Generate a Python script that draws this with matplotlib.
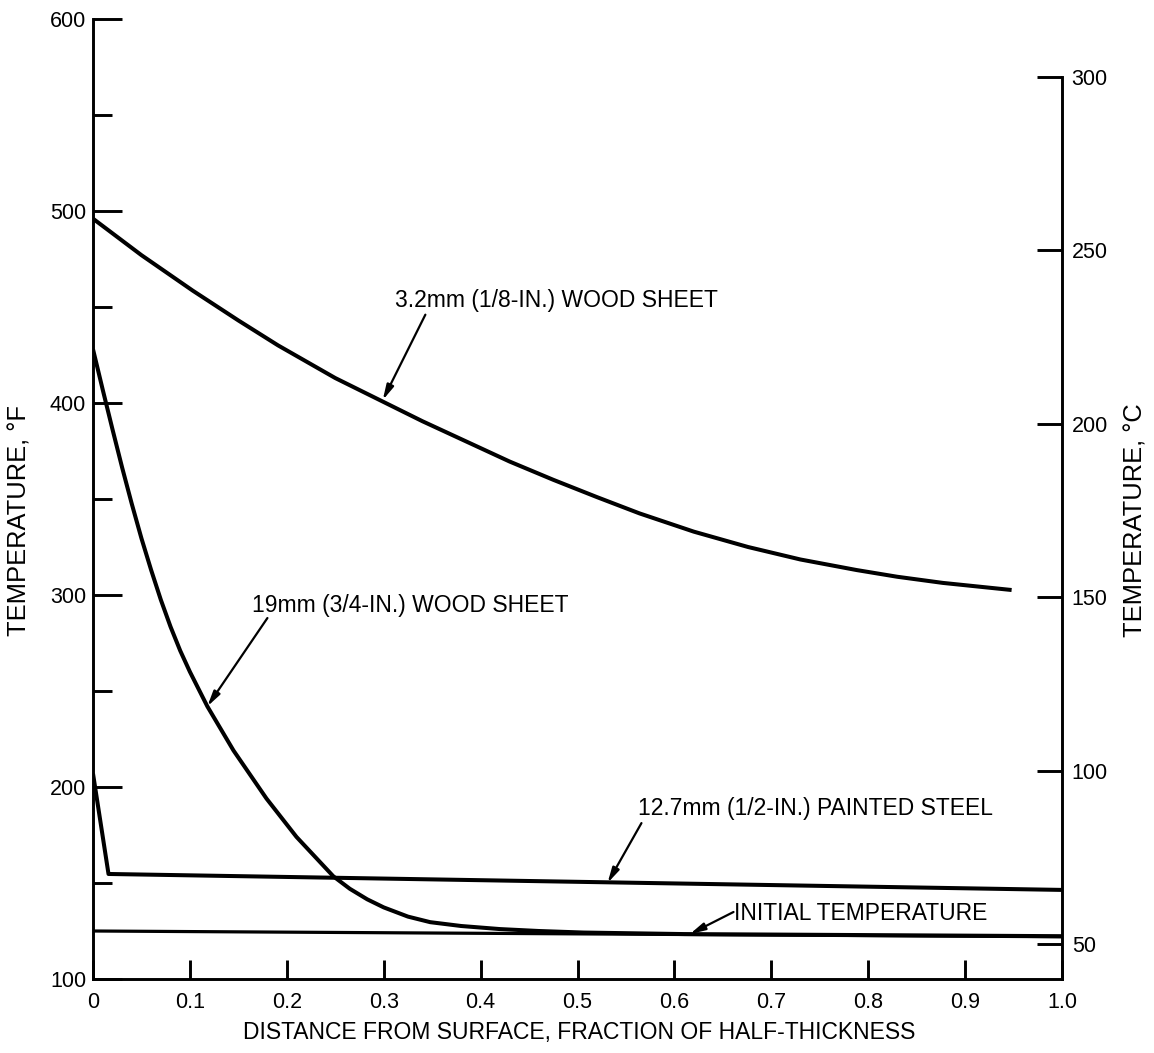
import numpy as np
import matplotlib
matplotlib.use("Agg")
import matplotlib.pyplot as plt
from matplotlib.ticker import FixedLocator

plt.rcParams['font.family'] = ['Liberation Sans', 'DejaVu Sans']

# 3.2mm (1/8-in.) wood sheet
wood_thin_x = [0.0, 0.05, 0.103, 0.15, 0.191, 0.25, 0.298, 0.34, 0.385, 0.43, 0.475,
               0.52, 0.564, 0.62, 0.676, 0.73, 0.788, 0.83, 0.877, 0.948]
wood_thin_f = [496, 477, 458.5, 443, 430, 413, 401, 390.5, 380, 369.5, 360,
               351, 342.5, 333, 325, 318.5, 313, 309.5, 306.3, 302.6]

# 19mm (3/4-in.) wood sheet
wood_thick_x = [0.0, 0.01, 0.02, 0.03, 0.04, 0.05, 0.06, 0.07, 0.08, 0.09, 0.10,
                0.118, 0.145, 0.179, 0.21, 0.248, 0.265, 0.283, 0.30, 0.325, 0.348,
                0.38, 0.42, 0.46, 0.506, 0.61, 1.0]
wood_thick_f = [428, 407, 386.5, 366.5, 347.5, 329.5, 313, 297.5, 283.5, 271, 260,
                242, 219, 194, 174, 153.5, 147, 141.5, 137.3, 132.5, 129.6,
                127.6, 126, 125, 124.2, 123.4, 122.3]

# 12.7mm (1/2-in.) painted steel
steel_x = [0.0, 0.016, 1.0]
steel_f = [207, 154.7, 146.4]

# initial temperature
init_x = [0.0, 1.0]
init_f = [125, 122]

x_ticks = [0, 0.1, 0.2, 0.3, 0.4, 0.5, 0.6, 0.7, 0.8, 0.9, 1.0]
x_labels = ['0', '0.1', '0.2', '0.3', '0.4', '0.5', '0.6', '0.7', '0.8', '0.9', '1.0']
f_major = [100, 200, 300, 400, 500, 600]
f_minor = [150, 250, 350, 450, 550]
c_ticks = [50, 100, 150, 200, 250, 300]

fig = plt.figure(figsize=(11.54, 10.53), dpi=100)
ax = fig.add_axes([93 / 1154, 74 / 1053, 969 / 1154, 960 / 1053])

lw = 2.9
for xs, ys in [(wood_thin_x, wood_thin_f), (wood_thick_x, wood_thick_f), (steel_x, steel_f)]:
    ax.plot(xs, ys, color='black', lw=lw, solid_capstyle='butt', solid_joinstyle='round')
ax.plot(init_x, init_f, color='black', lw=2.3, solid_capstyle='butt')

ax.set_xlim(0, 1.0)
ax.set_ylim(100, 600)

for s in ['top', 'right']:
    ax.spines[s].set_visible(False)
for s in ['left', 'bottom']:
    ax.spines[s].set_linewidth(2.1)

ax.xaxis.set_major_locator(FixedLocator(x_ticks))
ax.set_xticklabels(x_labels)
ax.yaxis.set_major_locator(FixedLocator(f_major))
ax.yaxis.set_minor_locator(FixedLocator(f_minor))
ax.set_yticklabels([str(v) for v in f_major])
ax.tick_params(axis='x', direction='in', length=14, width=2.1, pad=9, labelsize=15.5)
ax.tick_params(axis='y', which='major', direction='in', length=21, width=2.1, pad=5, labelsize=15.5)
ax.tick_params(axis='y', which='minor', direction='in', length=14, width=2.1)

ax2 = ax.twinx()
ax2.set_ylim(39.9, 316.7)
for s in ['top', 'left', 'bottom']:
    ax2.spines[s].set_visible(False)
ax2.spines['right'].set_linewidth(2.1)
ax2.spines['right'].set_bounds(39.9, 300)
ax2.yaxis.set_major_locator(FixedLocator(c_ticks))
ax2.set_yticklabels([str(v) for v in c_ticks])
ax2.tick_params(axis='y', direction='in', length=18, width=2.1, pad=7, labelsize=15.5)

fig.text(20 / 1154, 1 - 520 / 1053, 'TEMPERATURE, °F', rotation=90, ha='center', va='center', fontsize=18.4)
fig.text(1135 / 1154, 1 - 520 / 1053, 'TEMPERATURE, °C', rotation=90, ha='center', va='center', fontsize=18.4)
fig.text(579 / 1154, 1 - 1032 / 1053, 'DISTANCE FROM SURFACE, FRACTION OF HALF-THICKNESS',
         ha='center', va='center', fontsize=16.5)

arrow = dict(arrowstyle='-|>,head_length=0.9,head_width=0.22', color='black', lw=1.6,
             shrinkA=0, shrinkB=0)
fs = 16.5
ax.text(0.312, 453.5, '3.2mm (1/8-IN.) WOOD SHEET', fontsize=fs, ha='left', va='center')
ax.annotate('', xy=(0.299, 401.5), xytext=(0.343, 446), arrowprops=arrow)

ax.text(0.164, 294.5, '19mm (3/4-IN.) WOOD SHEET', fontsize=fs, ha='left', va='center')
ax.annotate('', xy=(0.118, 242), xytext=(0.18, 288), arrowprops=arrow)

ax.text(0.562, 189, '12.7mm (1/2-IN.) PAINTED STEEL', fontsize=fs, ha='left', va='center')
ax.annotate('', xy=(0.531, 150), xytext=(0.566, 181.2), arrowprops=arrow)

ax.text(0.662, 134.2, 'INITIAL TEMPERATURE', fontsize=fs, ha='left', va='center')
ax.annotate('', xy=(0.616, 123.4), xytext=(0.661, 134.9), arrowprops=arrow)

fig.savefig('out.png', dpi=100, facecolor='white')
